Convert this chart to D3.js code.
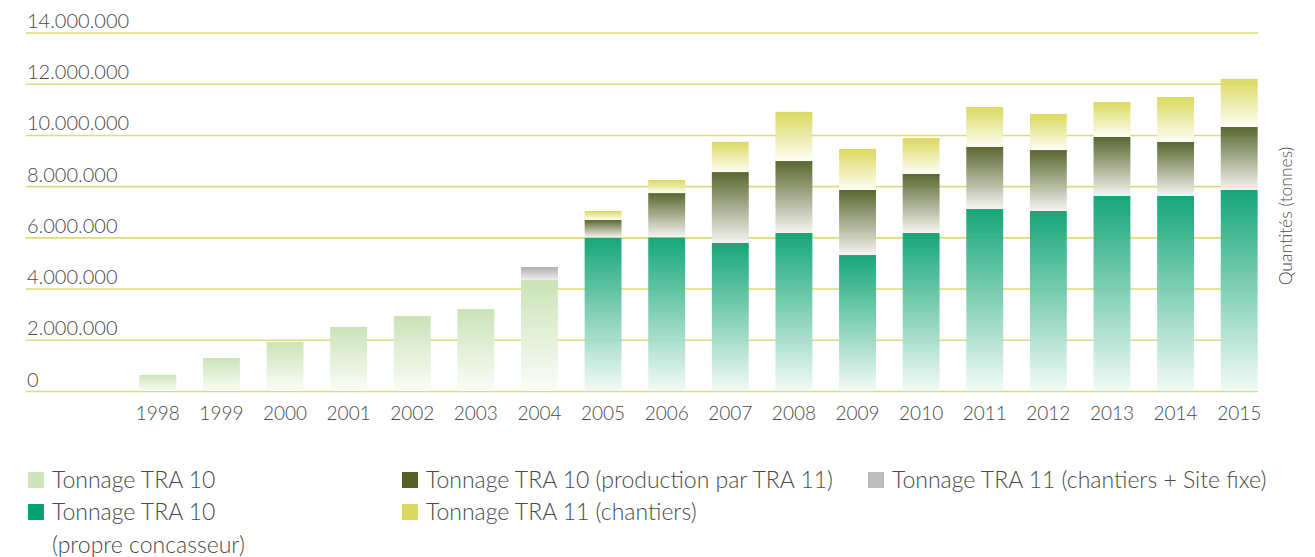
<!DOCTYPE html>
<html>
<head>
<meta charset="utf-8">
<script src="https://cdn.jsdelivr.net/npm/d3@7"></script>
<style>
  html, body { margin: 0; padding: 0; background: #fff; }
  svg { display: block; }
  text { font-family: Lato, "Open Sans", sans-serif; font-weight: 300; }
</style>
</head>
<body>
<svg id="chart" width="1315" height="557"></svg>
<script>
// ---- data (tonnes) ----
const years = ["1998","1999","2000","2001","2002","2003","2004","2005","2006","2007","2008","2009","2010","2011","2012","2013","2014","2015"];
const tra10          = [630000,1290000,1910000,2500000,2930000,3200000,4340000,0,0,0,0,0,0,0,0,0,0,0];
const tra10Propre    = [0,0,0,0,0,0,0,5990000,6000000,5780000,6170000,5310000,6170000,7110000,7030000,7620000,7620000,7850000];
const tra10ProdTra11 = [0,0,0,0,0,0,0,690000,1730000,2770000,2810000,2540000,2310000,2420000,2380000,2300000,2110000,2460000];
const tra11Site      = [0,0,0,0,0,0,500000,0,0,0,0,0,0,0,0,0,0,0];
const tra11Chantiers = [0,0,0,0,0,0,0,350000,510000,1180000,1920000,1600000,1400000,1560000,1410000,1370000,1750000,1880000];
const yTicks = [0,2000000,4000000,6000000,8000000,10000000,12000000,14000000];
const seriesKeys = ["tra10","propre","prod","site","chantiers"];
const legendLabels = {
  tra10: ["Tonnage TRA 10"],
  propre: ["Tonnage TRA 10", "(propre concasseur)"],
  prod: ["Tonnage TRA 10 (production par TRA 11)"],
  chantiers: ["Tonnage TRA 11 (chantiers)"],
  site: ["Tonnage TRA 11 (chantiers + Site fixe)"]
};
const axisTitle = "Quantités (tonnes)";

// ---- styles ----
const colors = {
  tra10:     {top:"#cbe3b7", bottom:"#fbfdf9", swatch:"#cde4bf"},
  propre:    {top:"#04a06e", bottom:"#f2faf6", swatch:"#07a071"},
  prod:      {top:"#4e5b20", bottom:"#f4f4f0", swatch:"#566126"},
  site:      {top:"#a9a9a9", bottom:"#ececec", swatch:"#bdbdbd"},
  chantiers: {top:"#d8d652", bottom:"#fefef6", swatch:"#d9d95a"}
};
const gridColor = "#dcdc78";
const textColor = "#4a4a4a";

const table = years.map((y,i) => ({
  year: y, tra10: tra10[i], propre: tra10Propre[i], prod: tra10ProdTra11[i],
  site: tra11Site[i], chantiers: tra11Chantiers[i]
}));

const svg = d3.select("#chart");
const defs = svg.append("defs");
seriesKeys.forEach(k => {
  const g = defs.append("linearGradient").attr("id","grad-"+k)
    .attr("x1",0).attr("y1",0).attr("x2",0).attr("y2",1);
  g.append("stop").attr("offset","0%").attr("stop-color",colors[k].top);
  g.append("stop").attr("offset","100%").attr("stop-color",colors[k].bottom);
});

const x = d3.scaleBand().domain(years).range([126, 1271]).paddingInner(0.42).paddingOuter(0.21);
const y = d3.scaleLinear().domain([0, 14000000]).range([391, 32.5]);

const loc = d3.formatLocale({decimal:",", thousands:".", grouping:[3], currency:["","€"]});
const fmt = loc.format(",d");

// gridlines + labels
const gridLeft = 26, gridRight = 1258;
const yAxis = d3.axisRight(y).tickValues(yTicks).tickFormat(fmt).tickSize(gridRight - gridLeft).tickPadding(0);
const gy = svg.append("g").attr("transform", `translate(${gridLeft},0)`).call(yAxis);
gy.select(".domain").remove();
gy.selectAll(".tick line").attr("stroke", gridColor).attr("stroke-width", 1.6);
gy.selectAll(".tick text").attr("x", 1).attr("dy", "-5").attr("text-anchor","start")
  .attr("dominant-baseline","auto")
  .attr("fill", textColor).style("font-size","20px");

// bars
const stack = d3.stack().keys(seriesKeys);
const stacked = stack(table);
svg.append("g").selectAll("g").data(stacked).join("g")
  .attr("fill", d => `url(#grad-${d.key})`)
  .attr("fill-opacity", d => d.key === "tra10" ? 1 : 0.93)
  .selectAll("rect").data(d => d.filter(p => p[1] - p[0] > 0)).join("rect")
  .attr("x", d => x(d.data.year))
  .attr("width", x.bandwidth())
  .attr("y", d => y(d[1]))
  .attr("height", d => y(d[0]) - y(d[1]));

// x axis labels
const xAxis = d3.axisBottom(x).tickSize(0).tickPadding(0);
const gx = svg.append("g").attr("transform","translate(0,420)").call(xAxis);
gx.select(".domain").remove();
gx.selectAll(".tick text").attr("y", 0).attr("dy", 0)
  .attr("fill", textColor).style("font-size","19px");

// right axis title
svg.append("text")
  .attr("transform","translate(1292,216) rotate(-90)")
  .attr("text-anchor","middle")
  .attr("fill", textColor).style("font-size","17.5px")
  .text(axisTitle);

// legend
const legendItems = [
  {key:"tra10", x:28, y:472},
  {key:"propre", x:28, y:504},
  {key:"prod", x:402, y:472},
  {key:"chantiers", x:402, y:504},
  {key:"site", x:868, y:472}
];
const lg = svg.append("g");
legendItems.forEach(it => {
  lg.append("rect").attr("x", it.x).attr("y", it.y).attr("width",16).attr("height",16)
    .attr("fill", colors[it.key].swatch);
  legendLabels[it.key].forEach((t,j) => {
    lg.append("text").attr("x", it.x + 24).attr("y", it.y + 16 + j*33)
      .attr("fill", textColor).style("font-size","23px").text(t);
  });
});
</script>
</body>
</html>
